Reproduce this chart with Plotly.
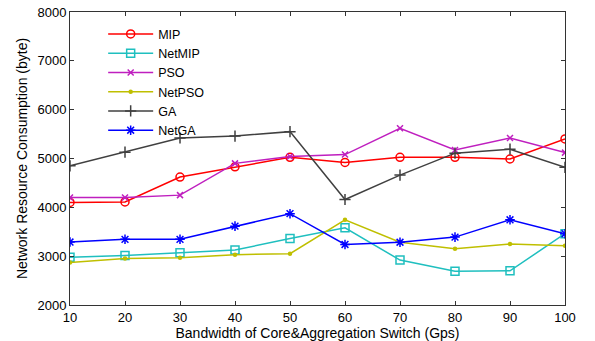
import plotly.graph_objects as go

bandwidth = [10, 20, 30, 40, 50, 60, 70, 80, 90, 100]
mip = [4100, 4110, 4620, 4830, 5025, 4920, 5025, 5025, 4990, 5400]
netmip = [2980, 3015, 3070, 3125, 3360, 3580, 2920, 2690, 2700, 3460]
pso = [4200, 4200, 4250, 4900, 5040, 5080, 5620, 5175, 5420, 5120]
netpso = [2870, 2950, 2970, 3030, 3050, 3745, 3285, 3150, 3250, 3215]
ga = [4850, 5130, 5420, 5460, 5550, 4160, 4660, 5110, 5190, 4820]
netga = [3290, 3345, 3345, 3615, 3870, 3240, 3285, 3390, 3745, 3460]

series = [
    ("MIP", mip, "#ff0000", "circle-open", 8),
    ("NetMIP", netmip, "#1fbfbf", "square-open", 8),
    ("PSO", pso, "#bf1fbf", "x-thin-open", 6),
    ("NetPSO", netpso, "#bfbf00", "circle", 3),
    ("GA", ga, "#404040", "cross-thin-open", 8),
    ("NetGA", netga, "#0000ff", "asterisk-open", 8),
]

fig = go.Figure()
for name, vals, color, sym, size in series:
    fig.add_trace(go.Scatter(
        x=bandwidth, y=vals, name=name, mode="lines+markers",
        line=dict(color=color, width=1.5),
        marker=dict(symbol=sym, size=size, color=color,
                    line=dict(color=color, width=1.5)),
    ))

axis_common = dict(
    showgrid=False, zeroline=False, showline=True, linecolor="#333333",
    linewidth=1, mirror="ticks", ticks="inside", ticklen=4, automargin=False,
    tickcolor="#333333", tickfont=dict(family="Liberation Sans, Arial", size=13, color="#000000"),
)

fig.update_layout(
    width=595, height=341,
    margin=dict(l=70, r=30, t=12, b=36),
    paper_bgcolor="white", plot_bgcolor="white",
    font=dict(family="Liberation Sans, Arial", color="#000000"),
    xaxis=dict(range=[10, 100], tickvals=bandwidth,
               title=dict(text="Bandwidth of Core&Aggregation Switch (Gps)",
                          font=dict(size=14), standoff=12),
               **axis_common),
    yaxis=dict(range=[2000, 8000], dtick=1000,
               title=dict(text="Network Resource Consumption (byte)",
                          font=dict(size=14), standoff=6),
               **axis_common),
    legend=dict(x=0.067, y=0.975, xanchor="left", yanchor="top",
                bgcolor="rgba(0,0,0,0)", font=dict(size=12.5),
                tracegroupgap=0, itemwidth=45),
    showlegend=True,
)

fig.write_html("out.html")
